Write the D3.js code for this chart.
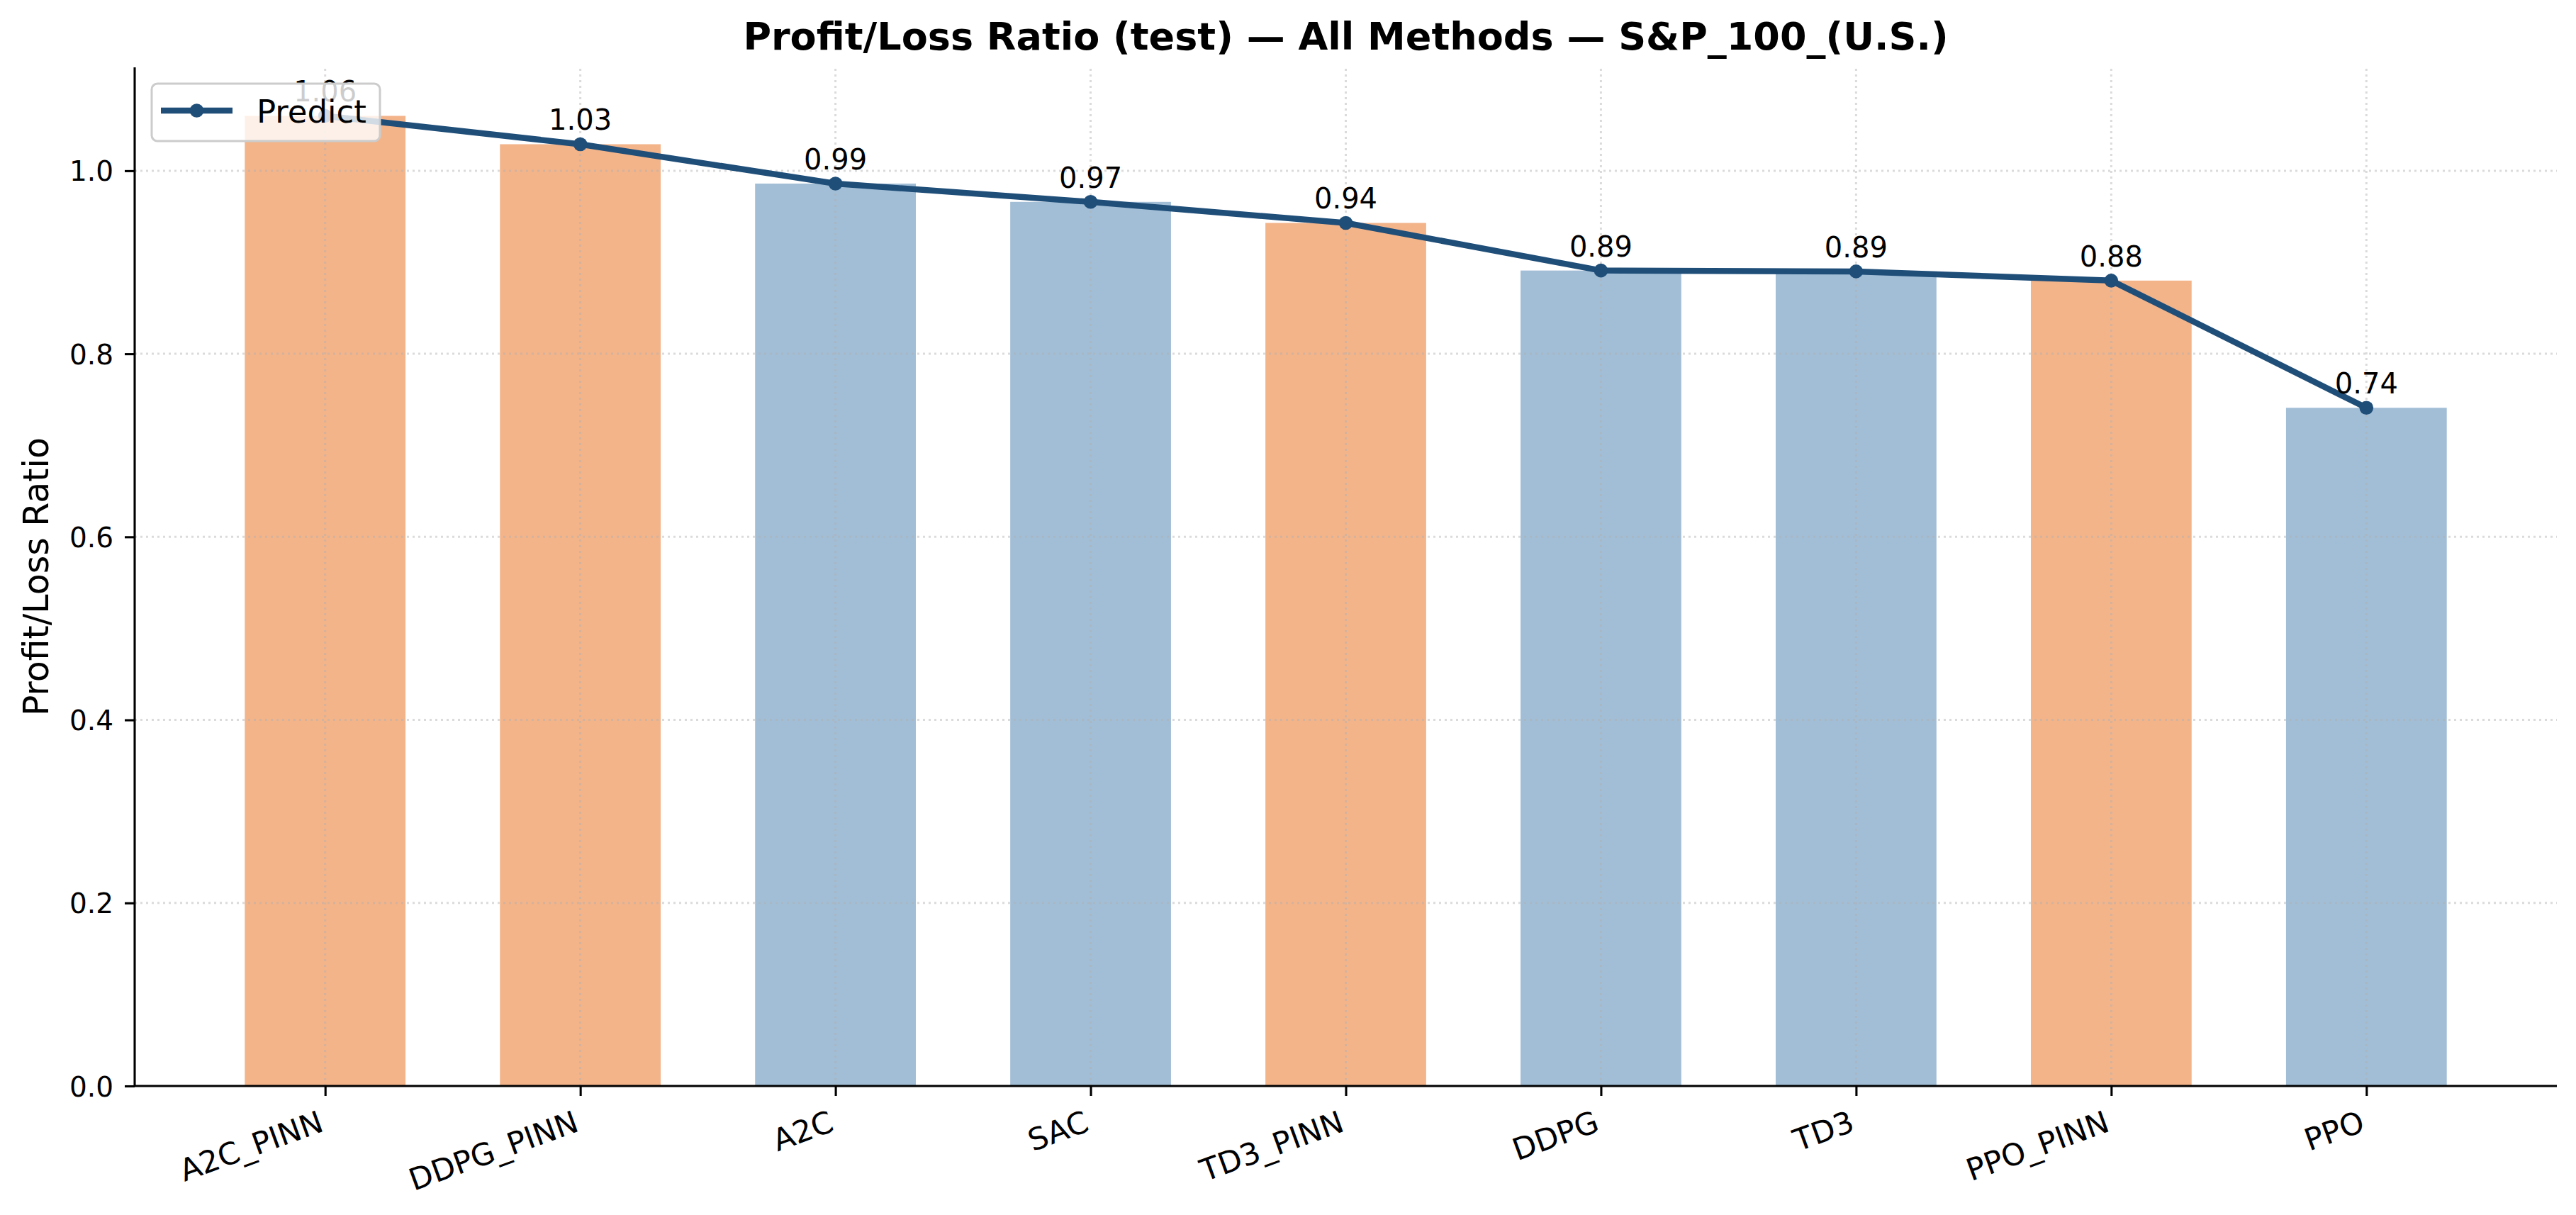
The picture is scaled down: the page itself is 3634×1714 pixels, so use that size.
<!DOCTYPE html>
<html>
<head>
<meta charset="utf-8">
<script src="https://cdn.jsdelivr.net/npm/d3@7"></script>
<style>
  body { margin: 0; background: #fff; }
  text { font-family: "DejaVu Sans", sans-serif; }
</style>
</head>
<body>
<div id="chart"></div>
<script>
// values
const methods = ["A2C_PINN", "DDPG_PINN", "A2C", "SAC", "TD3_PINN", "DDPG", "TD3", "PPO_PINN", "PPO"];
const ratios = [1.060, 1.029, 0.986, 0.966, 0.943, 0.891, 0.890, 0.880, 0.741];
const yTicks = [0.0, 0.2, 0.4, 0.6, 0.8, 1.0];
const seriesName = "Predict";

const W = 3634, H = 1714;
const margin = {top: 95, right: 27, bottom: 182, left: 190};

const orange = "#f3b48a", blue = "#a2bed6", lineColor = "#1f4e79";

const svg = d3.select("#chart").append("svg")
    .attr("width", W).attr("height", H)
    .attr("viewBox", "0 0 " + W + " " + H);

const n = methods.length;
const barWidth = 0.63;
const pad = (n - 1 + barWidth) * 0.05;
const x = d3.scaleLinear()
    .domain([-barWidth / 2 - pad, n - 1 + barWidth / 2 + pad])
    .range([margin.left, W - margin.right]);
const y = d3.scaleLinear()
    .domain([0, d3.max(ratios) * 1.05])
    .range([H - margin.bottom, margin.top]);

// bars
svg.append("g").selectAll("rect")
    .data(ratios)
    .enter().append("rect")
    .attr("x", (d, i) => x(i - barWidth / 2))
    .attr("width", (d, i) => x(barWidth) - x(0))
    .attr("y", d => y(d))
    .attr("height", d => y(0) - y(d))
    .attr("fill", (d, i) => methods[i].indexOf("_PINN") > 0 ? orange : blue);

// grid (drawn above bars like matplotlib's default)
const grid = svg.append("g")
    .attr("stroke", "#b0b0b0").attr("stroke-opacity", 0.45)
    .attr("stroke-width", 3).attr("stroke-dasharray", "3,5");
grid.selectAll("line.h").data(yTicks.slice(1)).enter().append("line")
    .attr("x1", x.range()[0]).attr("x2", x.range()[1])
    .attr("y1", d => y(d)).attr("y2", d => y(d));
grid.selectAll("line.v").data(methods).enter().append("line")
    .attr("x1", (d, i) => x(i)).attr("x2", (d, i) => x(i))
    .attr("y1", y.range()[0]).attr("y2", y.range()[1]);

// axes
const yAxis = d3.axisLeft(y).tickValues(yTicks).tickFormat(d3.format(".1f"))
    .tickSize(14).tickPadding(16);
const gy = svg.append("g")
    .attr("transform", "translate(" + margin.left + ",0)")
    .call(yAxis);
gy.select(".domain").attr("stroke-width", 3.1).attr("d",
    "M0," + y.range()[0] + "V" + y.range()[1]);
gy.selectAll(".tick line").attr("stroke-width", 3.1);
gy.selectAll(".tick text")
    .attr("font-size", 39).attr("dy", "0.36em")
    .style("font-family", "DejaVu Sans");

const xAxis = d3.axisBottom(x).tickValues(d3.range(n))
    .tickFormat(i => methods[i]).tickSize(14);
const gx = svg.append("g")
    .attr("transform", "translate(0," + y(0) + ")")
    .call(xAxis);
gx.select(".domain").attr("stroke-width", 3.1).attr("d",
    "M" + x.range()[0] + ",0H" + x.range()[1]);
gx.selectAll(".tick line").attr("stroke-width", 3.1);
const fs = 43, asc = 0.76 * fs, desc = 0.24 * fs;
gx.selectAll(".tick text")
    .attr("font-size", fs)
    .attr("text-anchor", "end")
    .attr("y", null).attr("dy", null)
    .attr("transform", "translate(" + (-0.342 * desc + 3) + "," + (28 + 0.94 * asc + 4) + ") rotate(-20)")
    .style("font-family", "DejaVu Sans");

// line + markers
const line = d3.line().x((d, i) => x(i)).y(d => y(d));
svg.append("path")
    .datum(ratios)
    .attr("d", line)
    .attr("fill", "none")
    .attr("stroke", lineColor)
    .attr("stroke-width", 8.5)
    .attr("stroke-linejoin", "round");
svg.append("g").selectAll("circle")
    .data(ratios)
    .enter().append("circle")
    .attr("cx", (d, i) => x(i))
    .attr("cy", d => y(d))
    .attr("r", 9.8)
    .attr("fill", lineColor);

// value labels
svg.append("g").selectAll("text")
    .data(ratios)
    .enter().append("text")
    .attr("x", (d, i) => x(i))
    .attr("y", d => y(d) - 20)
    .attr("text-anchor", "middle")
    .attr("font-size", 40)
    .text(d => d3.format(".2f")(d));

// legend (sits over the first value label, as in the reference)
const legend = svg.append("g");
legend.append("rect")
    .attr("x", 214).attr("y", 118).attr("width", 322).attr("height", 81)
    .attr("rx", 8).attr("ry", 8)
    .attr("fill", "#fff").attr("fill-opacity", 0.8)
    .attr("stroke", "#cccccc").attr("stroke-width", 3);
legend.append("line")
    .attr("x1", 227).attr("x2", 328).attr("y1", 156).attr("y2", 156)
    .attr("stroke", lineColor).attr("stroke-width", 8.5);
legend.append("circle")
    .attr("cx", 277.5).attr("cy", 156).attr("r", 9.8).attr("fill", lineColor);
legend.append("text")
    .attr("x", 362).attr("y", 173)
    .attr("font-size", 45)
    .text(seriesName);

// title and y label
svg.append("text")
    .attr("x", (x.range()[0] + x.range()[1]) / 2)
    .attr("y", 70)
    .attr("text-anchor", "middle")
    .attr("font-size", 54)
    .attr("font-weight", "bold")
    .text("Profit/Loss Ratio (test) — All Methods — S&P_100_(U.S.)");

svg.append("text")
    .attr("transform", "translate(68," + (y.range()[0] + y.range()[1]) / 2 + ") rotate(-90)")
    .attr("text-anchor", "middle")
    .attr("font-size", 49)
    .text("Profit/Loss Ratio");
</script>
</body>
</html>
